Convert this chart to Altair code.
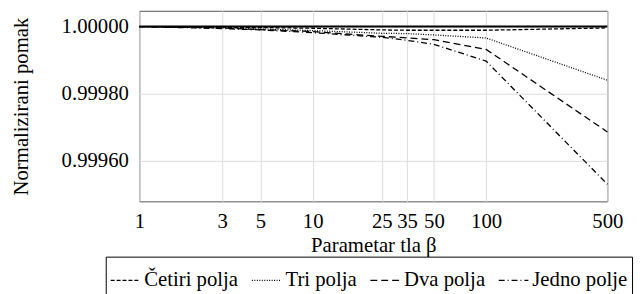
import altair as alt
import pandas as pd

beta = [1, 3, 5, 10, 25, 35, 50, 100, 500]
series_names = ["Četiri polja", "Tri polja", "Dva polja", "Jedno polje"]
cetiri = [1.0, 0.999998, 0.999997, 0.999995, 0.999990, 0.999989, 0.999989, 0.999989, 0.999996]
tri = [1.0, 0.999996, 0.999993, 0.999988, 0.999980, 0.999979, 0.999975, 0.999966, 0.999840]
dva = [1.0, 0.999996, 0.999991, 0.999985, 0.999971, 0.999966, 0.999961, 0.999932, 0.999686]
jedno = [1.0, 0.999994, 0.999990, 0.999982, 0.999968, 0.999959, 0.999947, 0.999897, 0.999530]
y_ticks = [0.9996, 0.9998, 1.0]
ref_value = [1.0]
dashes = [[4, 2], [1, 1.5], [7, 4], [6, 3, 1, 3]]

rows = []
for name, vals in zip(series_names, [cetiri, tri, dva, jedno]):
    for b, v in zip(beta, vals):
        rows.append({"beta": b, "value": v, "series": name})
df = pd.DataFrame(rows)
ref_df = pd.DataFrame({"value": ref_value})

FONT = "Liberation Serif"

xscale = alt.Scale(type="log", domain=[1, 500], nice=False)
yscale = alt.Scale(domain=[0.999479, 1.000047], nice=False, zero=False)

lines = alt.Chart(df).mark_line(color="black", strokeWidth=1.3).encode(
    x=alt.X("beta:Q", scale=xscale,
            axis=alt.Axis(values=beta, format="d", grid=True, ticks=False,
                          labelFlush=False, labelOverlap=False, labelPadding=9,
                          title="Parametar tla β", titleY=45, titleBaseline="middle")),
    y=alt.Y("value:Q", scale=yscale,
            axis=alt.Axis(values=y_ticks, format=".5f", grid=True, ticks=False,
                          labelPadding=11, title="Normalizirani pomak",
                          titleX=-119, titleY=96.5, titleAngle=-90,
                          titleAlign="center", titleBaseline="middle")),
    strokeDash=alt.StrokeDash("series:N",
                              scale=alt.Scale(domain=series_names, range=dashes),
                              sort=series_names,
                              legend=alt.Legend(orient="none", legendX=-34, legendY=249,
                                                direction="horizontal", columns=4,
                                                title=" ", titleFontSize=4, titlePadding=0,
                                                symbolType="stroke",
                                                symbolSize=900, symbolStrokeWidth=1.3,
                                                symbolStrokeColor="black",
                                                labelFont=FONT, labelFontSize=21,
                                                labelColor="black", labelOffset=3,
                                                columnPadding=10, strokeColor="black",
                                                fillColor="white", padding=4)),
)

rule = alt.Chart(ref_df).mark_rule(color="black", strokeWidth=2).encode(
    y=alt.Y("value:Q", scale=yscale)
)

chart = alt.layer(lines, rule).properties(
    width=474, height=193,
    autosize=alt.AutoSizeParams(type="none"),
    padding={"left": 133, "top": 1, "right": 28, "bottom": 92},
).configure(
    font=FONT
).configure_view(
    stroke="#555", strokeWidth=1
).configure_axis(
    labelFont=FONT, titleFont=FONT, labelFontSize=21, titleFontSize=21,
    labelColor="black", titleColor="black", titleFontWeight="normal",
    gridColor="#dcdcdc", gridWidth=1, domain=False
)

chart.save("out.html", embed_options={"renderer": "svg", "actions": False})
